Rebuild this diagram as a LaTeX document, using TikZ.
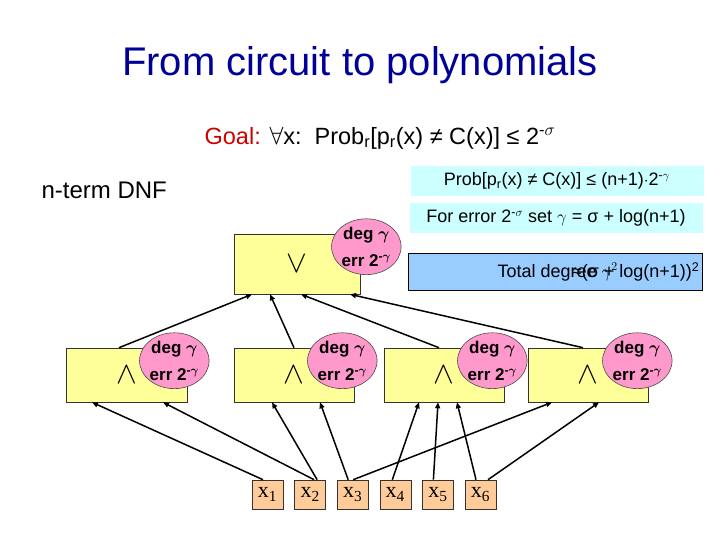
\documentclass[tikz,border=0pt]{standalone}
\usepackage{fontspec}
\setmainfont{Liberation Sans}
\newfontfamily\litfont{Liberation Serif}
\usepackage{graphicx}
\usepackage{tikz}
\usetikzlibrary{
  shapes.geometric,
  arrows.meta,
  positioning,
  calc
}
\definecolor{TitleBlue}{HTML}{000099}
\definecolor{GoalRed}{HTML}{CC0000}
\definecolor{GateYellow}{HTML}{FFFF99}
\definecolor{TagPink}{HTML}{FF99CC}
\definecolor{LitOrange}{HTML}{FFCC99}
\definecolor{NoteCyan}{HTML}{CCFFFF}
\definecolor{SumBlue}{HTML}{99CCFF}
\tikzset{
  % Gate box (OR / AND)
  gate/.style={
    rectangle, draw=black!80, fill=GateYellow, line width=0.6pt,
    minimum width=#1, minimum height=54pt,
    font=\fontsize{20}{24}\selectfont
  },
  % Degree / error tag
  tag/.style={
    ellipse, draw=black!70, fill=TagPink, line width=0.6pt,
    minimum width=60pt, minimum height=54pt, inner sep=0pt,
    align=center, font=\bfseries\boldmath\fontsize{17}{27}\selectfont
  },
  % Input literal
  lit/.style={
    rectangle, draw=black!80, fill=LitOrange, line width=0.6pt,
    minimum width=31pt, minimum height=29pt, inner sep=0pt,
    font=\litfont\fontsize{22}{24}\selectfont
  },
  % Note strip
  note/.style={
    rectangle, fill=#1, minimum width=293pt, minimum height=30pt,
    font=\fontsize{18}{21}\selectfont
  },
  % Wire
  arr/.style={
    -{Triangle[length=6pt,width=5pt]},
    line width=1.5pt, color=black
  }
}

\begin{document}
\begin{tikzpicture}[x=1pt,y=-1pt]
  \useasboundingbox (0,0) rectangle (720,540);

  % Heading and goal
  \node[font=\fontsize{40}{44}\selectfont, text=TitleBlue] (title) at (360,65)
    {From circuit to polynomials};
  \node[font=\fontsize{23.5}{27}\selectfont] (goal) at (380,138)
    {{\color{GoalRed}Goal:} $\forall$x:\ \ Prob\textsubscript{r}[p\textsubscript{r}(x) ≠ C(x)] ≤ 2\textsuperscript{-$\sigma$}};
  \node[font=\fontsize{24}{28}\selectfont, anchor=west] (dnf) at (38,190) {n-term DNF};

  % Notes on the right
  \node[note=NoteCyan] (prob) at (557,181)
    {Prob[p\textsubscript{r}(x) ≠ C(x)] ≤ (n+1)$\cdot$2\textsuperscript{-$\gamma$}};
  \node[note=NoteCyan] (err) at (556,218)
    {For error 2\textsuperscript{-$\sigma$} set $\gamma$ = σ + log(n+1)};
  \node[note=SumBlue, draw=black, line width=0.8pt, minimum height=37pt, minimum width=294pt] (tot) at (555,271.5) {};
  \node[anchor=west, font=\fontsize{18}{21}\selectfont] (totA) at (494,272)
    {Total degree $\gamma^2$};
  \node[anchor=east, font=\fontsize{18}{21}\selectfont] (totB) at (703,272)
    {≈(σ + log(n+1))\textsuperscript{2}};

  % Gates
  \node[gate=126pt, minimum height=60pt] (or) at (297,264) {\scalebox{1.5}{$\vee$}};
  \node[gate=121pt] (a1) at (126.5,375) {\scalebox{1.5}{$\wedge$}};
  \node[gate=120pt] (a2) at (294,375)   {\scalebox{1.5}{$\wedge$}};
  \node[gate=120pt] (a3) at (444,375)   {\scalebox{1.5}{$\wedge$}};
  \node[gate=120pt] (a4) at (588,375)   {\scalebox{1.5}{$\wedge$}};

  % Literals
  \node[lit] (x1) at (267.5,494.5) {x\textsubscript{1}};
  \node[lit, right=11pt of x1] (x2) {x\textsubscript{2}};
  \node[lit, right=11pt of x2] (x3) {x\textsubscript{3}};
  \node[lit, right=11pt of x3] (x4) {x\textsubscript{4}};
  \node[lit, right=11pt of x4] (x5) {x\textsubscript{5}};
  \node[lit, right=11pt of x5] (x6) {x\textsubscript{6}};

  % Literals into AND gates
  \draw[arr] ([xshift=-4.5pt]x1.north) -- ([xshift=-34.5pt]a1.south);
  \draw[arr] ([xshift=4pt]x2.north)    -- ([xshift=36.5pt]a1.south);
  \draw[arr] ([xshift=7pt]x2.north)    -- ([xshift=-22pt]a2.south);
  \draw[arr] ([xshift=-4.5pt]x3.north) -- ([xshift=26pt]a2.south);
  \draw[arr] ([xshift=0.5pt]x3.north)  -- ([xshift=-36pt]a4.south);
  \draw[arr] ([xshift=-3pt]x4.north)   -- ([xshift=-25pt]a3.south);
  \draw[arr] ([xshift=-4.5pt]x5.north) -- ([xshift=-6pt]a3.south);
  \draw[arr] ([xshift=-4.5pt]x6.north) -- ([xshift=13pt]a3.south);
  \draw[arr] ([xshift=7.5pt]x6.north)  -- ([xshift=11pt]a4.south);

  % AND gates into OR gate
  \draw[arr] ([xshift=-7.5pt]a1.north) -- ([xshift=-45pt]or.south);
  \draw[arr] (a2.north)                -- ([xshift=-27pt]or.south);
  \draw[arr] ([xshift=-5pt]a3.north)   -- ([xshift=4pt]or.south);
  \draw[arr] ([xshift=-5pt]a4.north)   -- ([xshift=53pt]or.south);

  % Tags
  \node[tag] (tor) at ([xshift=6pt,yshift=-13pt]or.north east) {deg $\gamma$\\err 2\textsuperscript{-$\gamma$}};
  \node[tag] (t1)  at ([xshift=-13pt,yshift=-13pt]a1.north east) {deg $\gamma$\\err 2\textsuperscript{-$\gamma$}};
  \node[tag] (t2)  at ([xshift=-12pt,yshift=-13pt]a2.north east) {deg $\gamma$\\err 2\textsuperscript{-$\gamma$}};
  \node[tag] (t3)  at ([xshift=-12pt,yshift=-13pt]a3.north east) {deg $\gamma$\\err 2\textsuperscript{-$\gamma$}};
  \node[tag] (t4)  at ([xshift=-11pt,yshift=-13pt]a4.north east) {deg $\gamma$\\err 2\textsuperscript{-$\gamma$}};

\end{tikzpicture}
\end{document}
